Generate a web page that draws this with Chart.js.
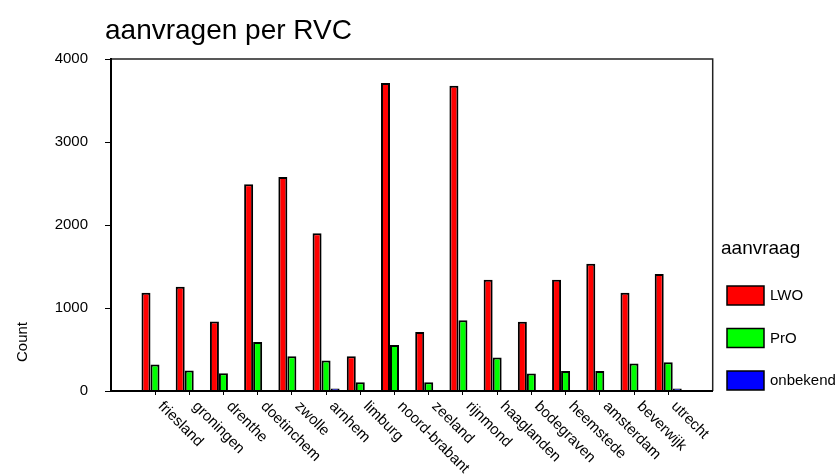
<!DOCTYPE html>
<html>
<head>
<meta charset="utf-8">
<script src="https://cdn.jsdelivr.net/npm/chart.js@4.4.1/dist/chart.umd.min.js"></script>
<style>
  html, body { margin: 0; padding: 0; background: #fff; }
  #wrap { width: 840px; height: 476px; }
</style>
</head>
<body>
<div id="wrap"><canvas id="myChart" width="840" height="476"></canvas></div>
<script>
const regions = ['friesland', 'groningen', 'drenthe', 'doetinchem', 'zwolle', 'arnhem', 'limburg', 'noord-brabant',
  'zeeland', 'rijnmond', 'haaglanden', 'bodegraven', 'heemstede', 'amsterdam', 'beverwijk', 'utrecht'];
const lwo = [1183, 1255, 837, 2491, 2579, 1900, 419, 3710, 712, 3678, 1340, 833, 1340, 1533, 1183, 1409];
const pro = [319, 246, 213, 591, 419, 367, 105, 555, 105, 853, 403, 210, 241, 241, 331, 346];
const onbekend = [12, 0, 0, 0, 0, 30, 0, 0, 0, 0, 0, 0, 0, 0, 0, 30];
const seriesNames = ['LWO', 'PrO', 'onbekend'];
const seriesColors = ['#ff0000', '#00ff00', '#0000ff'];

const FONT = "'Liberation Sans', Arial, sans-serif";

// bars sit on a linear x axis so the frame can run past the first/last group
const toPoints = arr => arr.map((v, i) => ({x: i, y: v}));

const data = {
  datasets: [lwo, pro, onbekend].map((arr, k) => ({
    label: seriesNames[k],
    data: toPoints(arr),
    backgroundColor: seriesColors[k],
    borderColor: '#000',
    borderWidth: 2,
    categoryPercentage: 0.79,
    barPercentage: 1
  }))
};

// top + right edges of the box
const frame = {
  id: 'frame',
  afterDatasetsDraw(chart) {
    const {ctx, chartArea: a} = chart;
    ctx.save();
    ctx.strokeStyle = '#222';
    ctx.lineWidth = 1.5;
    ctx.beginPath();
    ctx.moveTo(a.left, a.top);
    ctx.lineTo(a.right, a.top);
    ctx.lineTo(a.right, a.bottom);
    ctx.stroke();
    ctx.restore();
  }
};

const spssText = {
  id: 'spssText',
  afterDraw(chart) {
    const {ctx, chartArea, scales} = chart;
    const x = scales.x;
    ctx.save();
    ctx.fillStyle = '#000';
    ctx.textBaseline = 'alphabetic';

    // title
    ctx.font = `28px ${FONT}`;
    ctx.textAlign = 'left';
    ctx.fillText('aanvragen per RVC', 105, 39);

    // y axis title, sits low like the original
    ctx.save();
    ctx.translate(27, 342);
    ctx.rotate(-Math.PI / 2);
    ctx.font = `15px ${FONT}`;
    ctx.textAlign = 'center';
    ctx.fillText('Count', 0, 0);
    ctx.restore();

    // slanted category labels
    ctx.font = `15px ${FONT}`;
    ctx.textAlign = 'left';
    regions.forEach((name, i) => {
      ctx.save();
      ctx.translate(x.getPixelForValue(i) + 2.6, chartArea.bottom + 16);
      ctx.rotate(Math.PI / 4);
      ctx.fillText(name, 0, 0);
      ctx.restore();
    });

    // legend
    ctx.font = `19px ${FONT}`;
    ctx.fillText('aanvraag', 721, 254);
    ctx.font = `15px ${FONT}`;
    ctx.textBaseline = 'middle';
    chart.data.datasets.forEach((ds, i) => {
      const top = 286 + i * 42.5;
      ctx.fillStyle = ds.backgroundColor;
      ctx.fillRect(727, top, 37, 19);
      ctx.strokeStyle = '#000';
      ctx.lineWidth = 1.5;
      ctx.strokeRect(727, top, 37, 19);
      ctx.fillStyle = '#000';
      ctx.fillText(ds.label, 770, top + 10);
    });
    ctx.restore();
  }
};

const config = {
  type: 'bar',
  data,
  options: {
    responsive: false,
    animation: false,
    layout: {padding: {left: 0, top: 59, right: 127.3, bottom: 0}},
    plugins: {
      legend: {display: false},
      title: {display: false},
      tooltip: {enabled: false}
    },
    scales: {
      x: {
        type: 'linear',
        min: -1.286,
        max: regions.length - 1 + 1.3,
        offset: false,
        afterBuildTicks(scale) {
          scale.ticks = regions.map((_, i) => ({value: i}));
        },
        ticks: {display: false},
        grid: {offset: false, display: true, drawOnChartArea: false, tickLength: 4, color: '#000'},
        border: {display: true, color: '#000', width: 2, z: 1},
        afterFit(scale) { scale.height = 85; }
      },
      y: {
        min: 0,
        max: 4000,
        ticks: {
          stepSize: 1000,
          color: '#000',
          padding: 17,
          font: {family: FONT, size: 15},
          callback: v => String(v)
        },
        grid: {display: true, drawOnChartArea: false, tickLength: 6, color: '#000'},
        border: {display: true, color: '#000', width: 2, z: 1},
        afterFit(scale) { scale.width = 111; }
      }
    }
  },
  plugins: [frame, spssText]
};

const myChart = new Chart(document.getElementById('myChart'), config);
</script>
</body>
</html>
